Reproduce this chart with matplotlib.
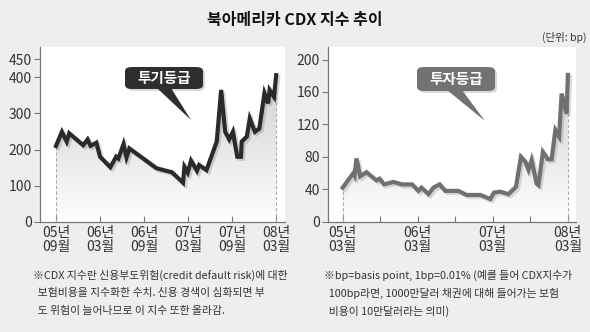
import numpy as np
import matplotlib
matplotlib.use("Agg")
import matplotlib.pyplot as plt
from matplotlib.colors import LinearSegmentedColormap
from matplotlib.patches import FancyBboxPatch, Polygon
import matplotlib.patheffects as pe

plt.rcParams['font.family'] = ['Noto Sans CJK KR', 'DejaVu Sans']

# ---------------- data ----------------
# High-yield (투기등급): months since 2005-09
hy_t = [0, 0.8, 1.45, 1.8, 3.7, 4.3, 4.7, 5.5, 6.0, 7.4, 8.2, 8.5, 9.2, 9.6, 10.0,
        13.7, 15.8, 17.3, 17.5, 17.95, 18.4, 19.2, 19.5, 20.5, 21.9, 22.5, 23.05,
        23.6, 24.1, 24.7, 25.2, 25.3, 26.0, 26.4, 27.1, 27.7, 28.4, 28.9, 29.1,
        29.7, 30.0]
hy_v = [210, 249, 222, 245, 212, 228, 210, 219, 180, 151, 180, 175, 215, 178, 203,
        148, 137, 108, 152, 136, 169, 141, 157, 143, 222, 365, 249,
        228, 249, 180, 180, 222, 236, 286, 249, 258, 356, 328, 365,
        346, 406]
hy_ticks = [0, 6, 12, 18, 24, 30]
hy_labels = ['05년\n09월', '06년\n03월', '06년\n09월', '07년\n03월', '07년\n09월', '08년\n03월']

# Investment grade (투자등급): months since 2005-03
ig_t = [0, 1.7, 1.9, 2.2, 2.8, 3.8, 5.4, 5.9, 6.6, 8.1, 9.5, 11.1, 12.1, 12.6, 13.7,
        14.5, 15.5, 16.4, 18.5, 19.8, 22.0, 23.6, 24.2, 25.2, 26.5, 27.7, 28.5,
        29.2, 29.7, 30.2, 31.0, 31.3, 32.0, 32.8, 33.4, 34.0, 34.6, 35.0, 35.8, 36.0]
ig_v = [42, 60, 57, 78, 56, 61, 51, 53, 46, 49, 46, 46, 38, 42, 34,
        42, 46, 38, 38, 33, 33, 28, 36, 37, 34, 43, 80,
        74, 64, 76, 47, 45, 86, 77, 77, 113, 105, 158, 133, 181]
ig_ticks = [0, 12, 24, 36]
ig_minor = [6, 18, 30]
ig_labels = ['05년\n03월', '06년\n03월', '07년\n03월', '08년\n03월']

W, H = 590, 332
fig = plt.figure(figsize=(W / 100, H / 100), dpi=100)
fig.patch.set_facecolor('#eeeeee')


def fx(x):
    return x / W


def fy(y):
    return 1 - y / H


def gradient_fill(ax, x, y, xlim, top, dark):
    poly = ax.fill_between(x, y, 0, color='none', lw=0)
    path = poly.get_paths()[0]
    img = np.linspace(1, 0, 256).reshape(-1, 1)
    cmap = LinearSegmentedColormap.from_list('g', ['#ffffff', dark])
    im = ax.imshow(img, aspect='auto', cmap=cmap, vmin=0, vmax=1,
                   extent=[xlim[0], xlim[1], 0, top], zorder=1)
    im.set_clip_path(path, transform=ax.transData)


def setup_axes(ax, xlim, ylim, yticks):
    ax.set_facecolor('white')
    ax.set_xlim(*xlim)
    ax.set_ylim(*ylim)
    for s in ['top', 'right']:
        ax.spines[s].set_visible(False)
    for s in ['left', 'bottom']:
        ax.spines[s].set_color('#777777')
        ax.spines[s].set_linewidth(0.9)
    ax.set_yticks(yticks)
    ax.tick_params(axis='y', direction='out', length=4, width=0.8, color='#777777',
                   labelsize=10, labelcolor='#333333', pad=2)
    ax.tick_params(axis='x', which='both', direction='in', length=4, width=0.8,
                   color='#777777', labelsize=10, labelcolor='#333333', pad=3)


# ---------------- left panel ----------------
axL = fig.add_axes([fx(40), fy(221.7), fx(245), 175 / H])
xlimL = (-2.18, 31.2)
gradient_fill(axL, hy_t, hy_v, xlimL, 420, '#cfcfcf')
axL.plot([hy_t[0], hy_t[0]], [0, hy_v[0]], ls=(0, (3, 2)), color='#aaaaaa', lw=0.8, zorder=2)
axL.plot([hy_t[-1], hy_t[-1]], [0, hy_v[-1]], ls=(0, (3, 2)), color='#aaaaaa', lw=0.8, zorder=2)
axL.plot(hy_t, hy_v, color='#2a2a2a', lw=3.0, solid_joinstyle='miter', zorder=3,
         path_effects=[pe.SimpleLineShadow(offset=(1.5, -1.5), shadow_color='#888888', alpha=0.35),
                       pe.Normal()])
setup_axes(axL, xlimL, (0, 485), [0, 100, 200, 300, 400, 450])
axL.set_xticks(hy_ticks)
axL.set_xticklabels(hy_labels)
for lbl in axL.get_xticklabels():
    lbl.set_linespacing(1.05)

# ---------------- right panel ----------------
axR = fig.add_axes([fx(328), fy(221.7), fx(248), 175 / H])
xlimR = (-2.35, 37.3)
gradient_fill(axR, ig_t, ig_v, xlimR, 190, '#cfcfcf')
axR.plot([ig_t[0], ig_t[0]], [0, ig_v[0]], ls=(0, (3, 2)), color='#aaaaaa', lw=0.8, zorder=2)
axR.plot([ig_t[-1], ig_t[-1]], [0, ig_v[-1]], ls=(0, (3, 2)), color='#aaaaaa', lw=0.8, zorder=2)
axR.plot(ig_t, ig_v, color='#707070', lw=3.0, solid_joinstyle='miter', zorder=3,
         path_effects=[pe.SimpleLineShadow(offset=(1.5, -1.5), shadow_color='#999999', alpha=0.35),
                       pe.Normal()])
setup_axes(axR, xlimR, (0, 215.8), [0, 40, 80, 120, 160, 200])
axR.set_xticks(ig_ticks)
axR.set_xticks(ig_minor, minor=True)
axR.set_xticklabels(ig_labels)
for lbl in axR.get_xticklabels():
    lbl.set_linespacing(1.05)


# ---------------- callouts ----------------
def callout(x0, y0, x1, y1, base, tip, color, text):
    sh = FancyBboxPatch((fx(x0 + 2), fy(y1 + 2)), fx(x1 - x0), (y1 - y0) / H,
                        boxstyle='round,pad=0,rounding_size=0.012', transform=fig.transFigure,
                        fc='#000000', ec='none', alpha=0.15, zorder=9)
    fig.patches.append(sh)
    box = FancyBboxPatch((fx(x0), fy(y1)), fx(x1 - x0), (y1 - y0) / H,
                         boxstyle='round,pad=0,rounding_size=0.012', transform=fig.transFigure,
                         fc=color, ec='none', zorder=10)
    fig.patches.append(box)
    tri = Polygon([(fx(base[0]), fy(y1 - 1)), (fx(base[1]), fy(y1 - 1)), (fx(tip[0]), fy(tip[1]))],
                  closed=True, transform=fig.transFigure, fc=color, ec='none', zorder=10)
    fig.patches.append(tri)
    fig.text(fx((x0 + x1) / 2), fy((y0 + y1) / 2), text, ha='center', va='center',
             color='white', fontsize=10.5, fontweight='bold', zorder=11)


callout(125, 67, 203, 89, (157, 171), (191, 120), '#2e2e2e', '투기등급')
callout(417, 67, 495, 91, (447, 462), (485, 121), '#727272', '투자등급')

# ---------------- titles & notes ----------------
fig.text(0.5, fy(20), '북아메리카 CDX 지수 추이', ha='center', va='center',
         fontsize=11.5, fontweight='bold', color='#111111')
fig.text(fx(586), fy(37), '(단위: bp)', ha='right', va='center', fontsize=7.5, color='#333333')

note_l = ['※CDX 지수란 신용부도위험(credit default risk)에 대한',
          '  보험비용을 지수화한 수치. 신용 경색이 심화되면 부',
          '  도 위험이 늘어나므로 이 지수 또한 올라감.']
note_r = ['※bp=basis point, 1bp=0.01% (예를 들어 CDX지수가',
          '  100bp라면, 1000만달러 채권에 대해 들어가는 보험',
          '  비용이 10만달러라는 의미)']
for i, s in enumerate(note_l):
    fig.text(fx(33), fy(275 + 18 * i), s, ha='left', va='center', fontsize=7.8, color='#333333')
for i, s in enumerate(note_r):
    fig.text(fx(324), fy(275 + 18 * i), s, ha='left', va='center', fontsize=7.8, color='#333333')

fig.savefig('out.png', dpi=100, facecolor=fig.get_facecolor())
